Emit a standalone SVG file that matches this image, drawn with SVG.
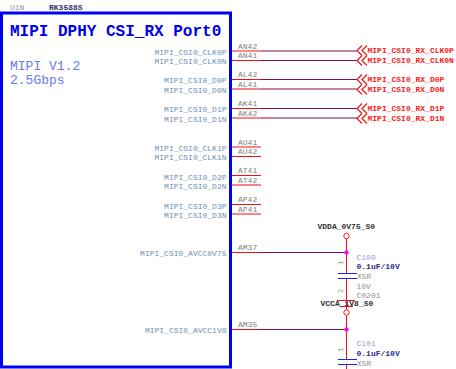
<svg xmlns="http://www.w3.org/2000/svg" width="456" height="369" viewBox="0 0 456 369">
<style>
text{font-family:"Liberation Mono",monospace;font-size:8px}
.pin{fill:#6f8fb5;text-anchor:end}
.num{fill:#808080}
.net{fill:#ff2020;font-weight:bold}
.red{stroke:#f01010;stroke-width:1;fill:none}
.dark{stroke:#80104a;stroke-width:1;fill:none}
.chev{stroke:#f01818;stroke-width:1.200;fill:none}
.cap{stroke:#2020e0;stroke-width:1;fill:none}
.val{fill:#2a2a90;font-weight:bold}
.ref{fill:#9a9ad0}
.grey{fill:#909090}
.pwr{fill:#303030;font-weight:bold}
.pnum{font-size:7px}
</style>
<rect width="456" height="369" fill="#fff"/>
<g id="connectors">
<path class="red" d="M231 51H261M231 60.500H261M231 79.500H261M231 89H261M231 108.500H261M231 118H261M231 147H261M231 156.500H261M231 175.500H261M231 185H261M231 204.500H261M231 214H261M231 252.500H261M231 329.500H261"/>
<path class="dark" d="M261 51H357M261 89H357M261 118H357M261 60.500H357M261 79.500H357M261 108.500H357M261 252.500H346.500M261 329.500H346.500"/>
<path class="red" d="M346.500 239V274M346.500 279V309.500M346.500 315.500V360M346.500 365V369"/>
</g>
<g id="U1N">
<rect x="1.500" y="13" width="229" height="354" fill="#fff" stroke="#0000f0" stroke-width="3"/>
<text x="10" y="10" fill="#9090a0">U1N</text>
<text x="49" y="10" fill="#303060" font-weight="bold">RK3588S</text>
<text x="10" y="36" fill="#0000f0" font-weight="bold" style="font-size:16px">MIPI DPHY CSI_RX Port0</text>
<text x="10" y="70" fill="#6a78f0" style="font-size:13px">MIPI V1.2</text>
<text x="10" y="84" fill="#6a78f0" style="font-size:13px">2.5Gbps</text>
<text class="pin" x="226.500" y="55">MIPI_CSI0_CLK0P</text>
<text class="pin" x="226.500" y="64">MIPI_CSI0_CLK0N</text>
<text class="pin" x="226.500" y="83">MIPI_CSI0_D0P</text>
<text class="pin" x="226.500" y="93">MIPI_CSI0_D0N</text>
<text class="pin" x="226.500" y="112">MIPI_CSI0_D1P</text>
<text class="pin" x="226.500" y="122">MIPI_CSI0_D1N</text>
<text class="pin" x="226.500" y="151">MIPI_CSI0_CLK1P</text>
<text class="pin" x="226.500" y="160">MIPI_CSI0_CLK1N</text>
<text class="pin" x="226.500" y="180">MIPI_CSI0_D2P</text>
<text class="pin" x="226.500" y="189">MIPI_CSI0_D2N</text>
<text class="pin" x="226.500" y="209">MIPI_CSI0_D3P</text>
<text class="pin" x="226.500" y="218">MIPI_CSI0_D3N</text>
<text class="pin" x="226.500" y="256">MIPI_CSI0_AVCC0V75</text>
<text class="pin" x="226.500" y="333">MIPI_CSI0_AVCC1V8</text>
<text class="num" x="238" y="49">AN42</text>
<text class="num" x="238" y="58">AN41</text>
<text class="num" x="238" y="77">AL42</text>
<text class="num" x="238" y="87">AL41</text>
<text class="num" x="238" y="106">AK41</text>
<text class="num" x="238" y="116">AK42</text>
<text class="num" x="238" y="145">AU41</text>
<text class="num" x="238" y="154">AU42</text>
<text class="num" x="238" y="173">AT41</text>
<text class="num" x="238" y="183">AT42</text>
<text class="num" x="238" y="202">AP42</text>
<text class="num" x="238" y="212">AP41</text>
<text class="num" x="238" y="250">AM37</text>
<text class="num" x="238" y="327">AM35</text>
</g>
<defs>
<path id="ch" class="chev" d="M362 -5L357 0L362 5M367 -5L362 0L367 5"/>
</defs>
<g id="net-clk0p"><use href="#ch" y="50.500"/><text class="net" x="367.500" y="53">MIPI_CSI0_RX_CLK0P</text></g>
<g id="net-clk0n"><use href="#ch" y="60.500"/><text class="net" x="367.500" y="63">MIPI_CSI0_RX_CLK0N</text></g>
<g id="net-d0p"><use href="#ch" y="79.500"/><text class="net" x="367.500" y="82">MIPI_CSI0_RX_D0P</text></g>
<g id="net-d0n"><use href="#ch" y="89.500"/><text class="net" x="367.500" y="92">MIPI_CSI0_RX_D0N</text></g>
<g id="net-d1p"><use href="#ch" y="108.500"/><text class="net" x="367.500" y="111">MIPI_CSI0_RX_D1P</text></g>
<g id="net-d1n"><use href="#ch" y="118.500"/><text class="net" x="367.500" y="121">MIPI_CSI0_RX_D1N</text></g>
<g id="VDDA_0V75_S0">
<circle cx="346.500" cy="236" r="2.700" fill="#fff" stroke="#f01818"/>
<text class="pwr" x="317.500" y="229">VDDA_0V75_S0</text>
<circle cx="346.500" cy="252.500" r="2.200" fill="#f010e0"/>
</g>
<g id="C100">
<path class="cap" d="M338 273.500H357M338 278.500H357"/>
<text class="ref" x="356.500" y="260">C100</text>
<text class="val" x="356.500" y="269">0.1uF/10V</text>
<text class="grey" x="357" y="279">X5R</text>
<text class="grey" x="356.500" y="289">10V</text>
<text class="grey" x="356.500" y="298">C0201</text>
<text class="grey pnum" x="343" y="265" transform="rotate(-90 343 265)">1</text>
<text class="grey pnum" x="343" y="293" transform="rotate(-90 343 293)">2</text>
<path class="red" d="M337 300.500H355M340 306.500H353"/>
</g>
<g id="VCCA_1V8_S0">
<text class="pwr" x="320.500" y="306">VCCA_1V8_S0</text>
<circle cx="346.500" cy="312.500" r="2.700" fill="#fff" stroke="#f01818"/>
<circle cx="346.500" cy="329.500" r="2.200" fill="#f010e0"/>
</g>
<g id="C101">
<path class="cap" d="M338 359.500H357M338 364.500H357"/>
<text class="ref" x="356.500" y="346">C101</text>
<text class="val" x="356.500" y="356">0.1uF/10V</text>
<text class="grey" x="357" y="366">X5R</text>
<text class="grey pnum" x="343" y="352" transform="rotate(-90 343 352)">1</text>
</g>
</svg>
